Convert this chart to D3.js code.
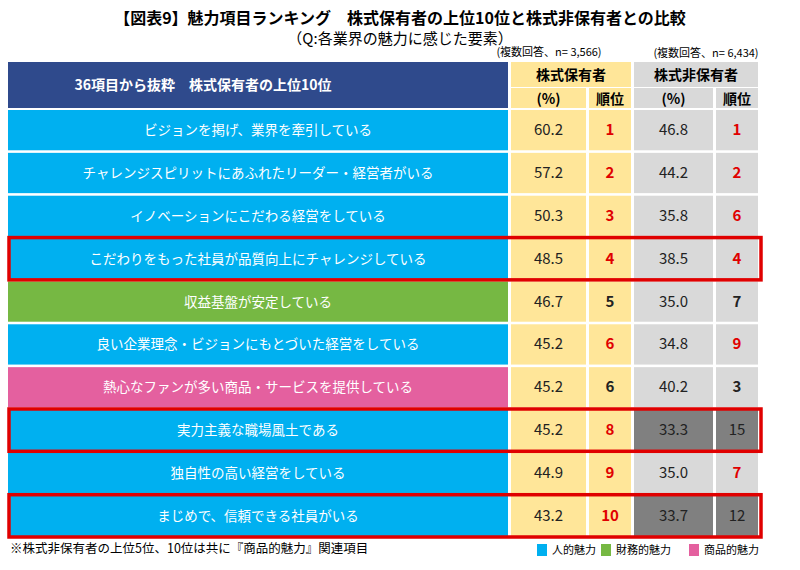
<!DOCTYPE html>
<html><head><meta charset="utf-8">
<script src="https://cdn.jsdelivr.net/npm/d3@7/dist/d3.min.js"></script>
<style>body{margin:0;background:#fff}text{font-family:"Noto Sans CJK JP",sans-serif}</style>
</head><body><svg id="c" width="800" height="570"></svg>
<script>
const items = ['ビジョンを掲げ、業界を牽引している','チャレンジスピリットにあふれたリーダー・経営者がいる','イノベーションにこだわる経営をしている','こだわりをもった社員が品質向上にチャレンジしている','収益基盤が安定している','良い企業理念・ビジョンにもとづいた経営をしている','熱心なファンが多い商品・サービスを提供している','実力主義な職場風土である','独自性の高い経営をしている','まじめで、信頼できる社員がいる'];
const category = ['人','人','人','人','財','人','商','人','人','人'];
const holderPct = [60.2,57.2,50.3,48.5,46.7,45.2,45.2,45.2,44.9,43.2];
const holderRank = [1,2,3,4,5,6,6,8,9,10];
const nonPct = [46.8,44.2,35.8,38.5,35.0,34.8,40.2,33.3,35.0,33.7];
const nonRank = [1,2,6,4,7,9,3,15,7,12];
const outside = [false,false,false,false,false,false,false,true,false,true]; // 非保有者で10位圏外
const boxed = [3,7,9];
const catColor = {'人':'#00B0F0','財':'#76B843','商':'#E4609F'};
const legend = [['人','人的魅力'],['財','財務的魅力'],['商','商品的魅力']];

const svg = d3.select('#c');
const x0 = 8, xL = 508;
const cols = [[511,586],[589,631],[634,713],[716,758]];
const y = d3.scaleBand().domain(d3.range(10)).range([110,536]).paddingInner(0.06);
const mid = (a) => (a[0]+a[1])/2;

svg.append('text').attr('x',400).attr('y',24).attr('text-anchor','middle').attr('font-size',16).attr('font-weight','bold')
  .text('【図表9】魅力項目ランキング　株式保有者の上位10位と株式非保有者との比較');
svg.append('text').attr('x',400).attr('y',44).attr('text-anchor','middle').attr('font-size',15).text('（Q:各業界の魅力に感じた要素）');
svg.append('text').attr('x',549).attr('y',56).attr('text-anchor','middle').attr('font-size',11).text('(複数回答、n= 3,566)');
svg.append('text').attr('x',706).attr('y',57).attr('text-anchor','middle').attr('font-size',11).text('(複数回答、n= 6,434)');

// header
svg.append('rect').attr('x',x0).attr('y',62).attr('width',xL-x0).attr('height',46).attr('fill','#2F4A8C');
svg.append('text').attr('x',(x0+xL)/2-55).attr('y',90).attr('text-anchor','middle').attr('fill','#fff').attr('font-size',14).attr('font-weight','bold').text('36項目から抜粋　株式保有者の上位10位');
[[0,1,'#FFE699','株式保有者'],[2,3,'#D9D9D9','株式非保有者']].forEach(([a,b,f,t]) => {
  svg.append('rect').attr('x',cols[a][0]).attr('y',62).attr('width',cols[b][1]-cols[a][0]).attr('height',25).attr('fill',f);
  svg.append('text').attr('x',(cols[a][0]+cols[b][1])/2).attr('y',80).attr('text-anchor','middle').attr('font-size',14).attr('font-weight','bold').text(t);
});
cols.forEach((c,i) => {
  svg.append('rect').attr('x',c[0]).attr('y',88).attr('width',c[1]-c[0]).attr('height',20).attr('fill',i<2?'#FFE699':'#D9D9D9');
  svg.append('text').attr('x',mid(c)).attr('y',104).attr('text-anchor','middle').attr('font-size',14).attr('font-weight','bold').text(i%2?'順位':'(%)');
});

// rows
items.forEach((t,i) => {
  const top = y(i), h = y.bandwidth(), cy = top + h/2 + 5;
  svg.append('rect').attr('x',x0).attr('y',top).attr('width',xL-x0).attr('height',h).attr('fill',catColor[category[i]]);
  svg.append('text').attr('x',(x0+xL)/2).attr('y',cy).attr('text-anchor','middle').attr('fill','#fff').attr('font-size',13.5).text(t);
  const red = category[i]==='人';
  const cells = [
    [holderPct[i].toFixed(1),'#FFE699','#222',false],
    [holderRank[i],'#FFE699',red?'#E00000':'#222',true],
    [nonPct[i].toFixed(1),outside[i]?'#808080':'#D9D9D9','#222',false],
    [nonRank[i],outside[i]?'#808080':'#D9D9D9',outside[i]?'#222':(red?'#E00000':'#222'),!outside[i]]
  ];
  cells.forEach(([v,f,c,b],k) => {
    svg.append('rect').attr('x',cols[k][0]).attr('y',top).attr('width',cols[k][1]-cols[k][0]).attr('height',h).attr('fill',f);
    svg.append('text').attr('x',mid(cols[k])).attr('y',cy).attr('text-anchor','middle').attr('font-size',15)
      .attr('font-weight',b?'bold':'normal').attr('fill',c).text(v);
  });
});
boxed.forEach(i => {
  svg.append('rect').attr('x',x0+1).attr('y',y(i)-1).attr('width',cols[3][1]-x0+2).attr('height',y.bandwidth()+2)
    .attr('fill','none').attr('stroke','#E00000').attr('stroke-width',3.5);
});

svg.append('text').attr('x',10).attr('y',553).attr('font-size',12.5).text('※株式非保有者の上位5位、10位は共に『商品的魅力』関連項目');
let lx = 537;
legend.forEach(([k,t]) => {
  svg.append('rect').attr('x',lx).attr('y',544).attr('width',10).attr('height',12).attr('fill',catColor[k]);
  svg.append('text').attr('x',lx+15).attr('y',554).attr('font-size',11).text(t);
  lx += t.length > 4 ? 88 : 64;
});
</script></body></html>
